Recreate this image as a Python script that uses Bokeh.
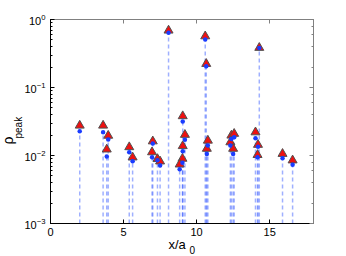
import math
from bokeh.plotting import figure
from bokeh.models import LogAxis, LinearAxis, Title, FixedTicker, LogTicker, Range1d
from bokeh.embed import file_html
from bokeh.resources import INLINE

# data
x_pos = [2.0, 3.6, 3.95, 3.85, 5.39, 5.62, 7.0, 6.95, 7.32, 7.5,
         8.08, 9.05, 9.2, 9.05, 9.03, 8.84, 10.59, 10.66, 10.77, 10.7,
         12.38, 12.57, 12.31, 12.5, 14.03, 14.2, 14.17, 14.29, 15.88, 16.57]
rho_tri = [0.0276, 0.0276, 0.0196, 0.0123, 0.0133, 0.0094, 0.0162, 0.0112, 0.0089, 0.0082,
           0.69, 0.038, 0.0202, 0.0138, 0.009, 0.0074, 0.568, 0.223, 0.0166, 0.0126,
           0.0197, 0.0209, 0.0157, 0.0126, 0.022, 0.0144, 0.0102, 0.384, 0.0106, 0.0085]
rho_dot = [0.0228, 0.022, 0.0172, 0.0097, 0.0112, 0.0082, 0.015, 0.0094, 0.0085, 0.0071,
           0.64, 0.0316, 0.017, 0.0115, 0.0078, 0.0063, 0.508, 0.206, 0.014, 0.0105,
           0.0175, 0.0185, 0.014, 0.0105, 0.018, 0.0135, 0.0094, 0.38, 0.0091, 0.0073]
x_ticks = [0, 5, 10, 15]
x_min, x_max = 0, 18
y_min, y_max = 1e-3, 1.0

FONT = "Liberation Sans"

p = figure(width=346, height=256,
           min_border_left=50, min_border_right=33, min_border_top=19, min_border_bottom=33,
           x_range=Range1d(x_min, x_max), y_range=Range1d(y_min, y_max),
           y_axis_type="log", output_backend="svg", toolbar_location=None)
p.background_fill_color = "white"
p.border_fill_color = "white"
p.outline_line_color = "#808080"
p.grid.visible = False

floor = [y_min] * len(x_pos)
p.segment(x0=x_pos, y0=floor, x1=x_pos, y1=rho_dot, line_color="#5070ff",
          line_alpha=0.55, line_width=1.5, line_dash="4 3")
p.scatter(x_pos, rho_tri, marker="triangle", size=9, fill_color="#ee1111",
          line_color="#505050", line_width=1)
p.scatter(x_pos, rho_dot, marker="circle", size=4.5, fill_color="#1a3cff",
          line_color=None)

for ax in (p.xaxis[0], p.yaxis[0]):
    ax.axis_line_color = "black"
    ax.major_tick_line_color = "black"
    ax.minor_tick_line_color = "black"
    ax.major_tick_in = 4
    ax.major_tick_out = 0
    ax.minor_tick_in = 2
    ax.minor_tick_out = 0
    ax.major_label_text_font = FONT
    ax.major_label_text_font_size = "11px"
    ax.major_label_text_color = "black"
    ax.major_label_standoff = 5
p.xaxis.ticker = FixedTicker(ticks=x_ticks)
p.xaxis.minor_tick_line_color = None
p.xaxis.major_label_standoff = 4

top = LinearAxis(ticker=FixedTicker(ticks=x_ticks), major_label_text_font_size="1px",
                 major_label_text_alpha=0, major_label_standoff=0,
                 axis_line_color="#808080",
                 major_tick_line_color="#808080", major_tick_in=4, major_tick_out=0,
                 minor_tick_line_color=None)
p.add_layout(top, "above")
right = LogAxis(ticker=LogTicker(), major_label_text_font_size="1px",
                major_label_text_alpha=0, major_label_standoff=0,
                axis_line_color="#808080", major_tick_line_color="#808080",
                minor_tick_line_color="#808080", major_tick_in=4, major_tick_out=0,
                minor_tick_in=2, minor_tick_out=0)
p.add_layout(right, "right")

# axis labels as titles in the side panels (inner to outer)
p.add_layout(Title(text="x/a", align="left", offset=118, standoff=-8,
                   text_font=FONT, text_font_size="13px", text_font_style="normal",
                   text_color="black"), "below")
p.add_layout(Title(text="0", align="left", offset=139, standoff=-8,
                   text_font=FONT, text_font_size="10px", text_font_style="normal",
                   text_color="black"), "below")
p.add_layout(Title(text="peak", align="left", offset=85, standoff=-5,
                   text_font=FONT, text_font_size="10px", text_font_style="normal",
                   text_color="black"), "left")
p.add_layout(Title(text="ρ", align="left", offset=79, standoff=-5,
                   text_font=FONT, text_font_size="14px", text_font_style="normal",
                   text_color="black"), "left")

open("out.html", "w").write(file_html(p, INLINE))
